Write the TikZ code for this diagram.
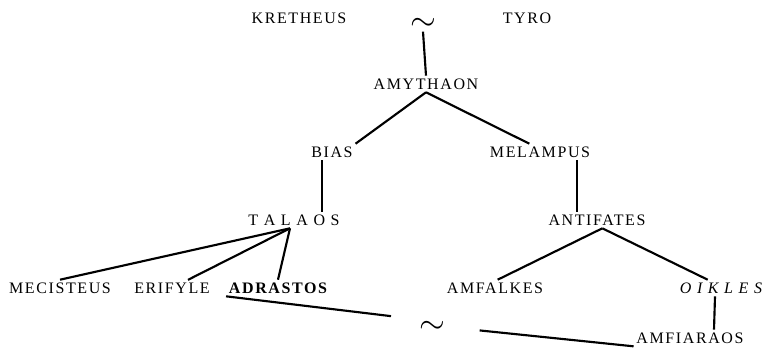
\documentclass[tikz,border=0pt]{standalone}
\usepackage{fontspec}
\setmainfont{Liberation Serif}
\newfontfamily\genefont{Liberation Serif}[LetterSpace=10]
\begin{document}
\begin{tikzpicture}[x=0.75pt,y=0.75pt,yscale=-1,xscale=1,
    person/.style={inner sep=2pt, font=\genefont\fontsize{12}{14}\selectfont},
    wedlock/.style={inner sep=1pt},
    kin/.style={line width=1.6pt}]
            \useasboundingbox (0,0) rectangle (774,347);

            % Text Node
            \node[person] (kretheus) at (299,18) {KRETHEUS};
            \node[wedlock, font=\fontsize{36}{36}\selectfont] (wedA) at (423,24) {$\sim$};
            \node[person] (tyro) at (527,18) {TYRO};
            % Text Node
            \node[person] (amythaon) at (426,84) {AMYTHAON};
            % Text Node
            \node[person] (bias) at (332,152) {BIAS};
            \node[person] (melampus) at (540,152) {MELAMPUS};
            % Text Node
            \node[person] (talaos) at (294,220) {T A L A O S};
            \node[person] (antifates) at (597,220) {ANTIFATES};
            % Text Node
            \node[person] (mecisteus) at (60,288) {MECISTEUS};
            \node[person] (erifyle) at (172,288) {ERIFYLE};
            \node[person, font=\genefont\fontsize{12}{14}\selectfont\bfseries] (adrastos) at (278,288) {ADRASTOS};
            \node[person] (amfalkes) at (495,288) {AMFALKES};
            \node[person, font=\genefont\fontsize{12}{14}\selectfont\itshape] (oikles) at (721,288) {O I K L E S};
            % Text Node
            \node[wedlock, font=\fontsize{44}{44}\selectfont] (wedB) at (432,327) {$\sim$};
            \node[person] (amfiaraos) at (690,338) {AMFIARAOS};

            %Straight Lines
            \draw[kin] (wedA.south) -- (amythaon.north);
            \draw[kin] (amythaon.south) -- (bias.north east);
            \draw[kin] (amythaon.south) -- ([xshift=-8pt]melampus.north);
            %Straight Lines
            \draw[kin] ([xshift=-7.5pt]bias.south) -- ([xshift=-7.5pt]bias.south |- talaos.north);
            \draw[kin] ([xshift=28pt]melampus.south) -- ([xshift=28pt]melampus.south |- antifates.north);
            %Straight Lines
            \draw[kin] ([xshift=-3pt]talaos.south) -- (mecisteus.north);
            \draw[kin] ([xshift=-3pt]talaos.south) -- ([xshift=12pt]erifyle.north);
            \draw[kin] ([xshift=-3pt]talaos.south) -- (adrastos.north);
            %Straight Lines
            \draw[kin] ([xshift=4pt]antifates.south) -- ([xshift=2pt]amfalkes.north);
            \draw[kin] ([xshift=4pt]antifates.south) -- ([xshift=-10pt]oikles.north);
            \draw[kin] ([xshift=-4.5pt]oikles.south) -- ([xshift=18pt]amfiaraos.north);
            %Straight Lines
            \draw[kin, shorten >=20pt] (adrastos.south west) -- (wedB.north west);
            \draw[kin, shorten <=25pt] (wedB.east) -- (amfiaraos.south west);

        \end{tikzpicture}
\end{document}
